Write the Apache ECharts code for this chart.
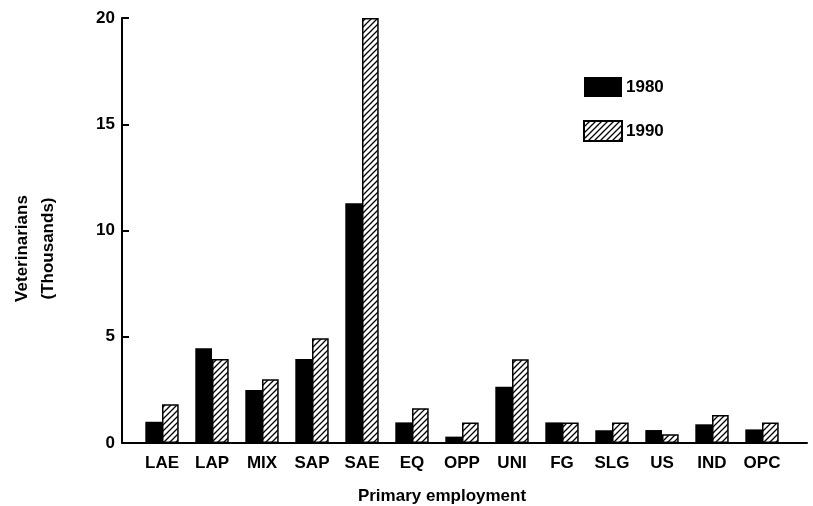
<!DOCTYPE html>
<html>
<head>
<meta charset="utf-8">
<script src="https://cdn.jsdelivr.net/npm/echarts@6/dist/echarts.min.js"></script>
<style>html,body{margin:0;padding:0;background:#fff;}#c{width:813px;height:506px;}</style>
</head>
<body>
<div id="c"></div>
<script>
var categories = ['LAE','LAP','MIX','SAP','SAE','EQ','OPP','UNI','FG','SLG','US','IND','OPC'];
var values1980 = [1.0, 4.46, 2.49, 3.95, 11.28, 0.97, 0.3, 2.65, 0.97, 0.6, 0.61, 0.88, 0.64];
var values1990 = [1.82, 3.95, 3.0, 4.93, 20, 1.64, 0.96, 3.94, 0.97, 0.96, 0.41, 1.32, 0.97];
var yTicks = [0, 5, 10, 15, 20];

function hatch() {
  var s = 6;
  var cv = document.createElement('canvas');
  cv.width = s; cv.height = s;
  var ctx = cv.getContext('2d');
  ctx.fillStyle = '#fff';
  ctx.fillRect(0, 0, s, s);
  ctx.strokeStyle = '#000';
  ctx.lineWidth = 1.3;
  ctx.beginPath();
  ctx.moveTo(-1, s + 1); ctx.lineTo(s + 1, -1);
  ctx.moveTo(-1, 1); ctx.lineTo(1, -1);
  ctx.moveTo(s - 1, s + 1); ctx.lineTo(s + 1, s - 1);
  ctx.stroke();
  return cv;
}

var font = 'Liberation Sans, Arial, Helvetica, sans-serif';
var chart = echarts.init(document.getElementById('c'), null, {renderer: 'canvas'});
chart.setOption({
  animation: false,
  backgroundColor: '#fff',
  textStyle: {fontFamily: font},
  legend: {
    orient: 'vertical', left: 583, top: 77, padding: 0,
    itemWidth: 38, itemHeight: 20, itemGap: 23,
    icon: 'rect',
    textStyle: {fontFamily: font, fontSize: 17, fontWeight: 'bold', color: '#000', padding: [0, 0, 0, -1]},
    data: ['1980', '1990']
  },
  grid: [
    {left: 137, right: 26, top: 18, bottom: 63, containLabel: false, outerBoundsMode: 'none'},
    {left: 122, right: 6, top: 18, bottom: 63, containLabel: false, outerBoundsMode: 'none'}
  ],
  xAxis: [
    {
      type: 'category', gridIndex: 0, data: categories,
      axisLine: {show: false}, axisTick: {show: false},
      axisLabel: {color: '#000', fontSize: 17, fontWeight: 'bold', fontFamily: font, margin: 12, interval: 0},
      name: 'Primary employment', nameLocation: 'middle', nameGap: 45,
      nameTextStyle: {color: '#000', fontSize: 17, fontWeight: 'bold', fontFamily: font, padding: [0, 40, 0, 0]}
    },
    {
      type: 'value', gridIndex: 1, min: 0, max: 1,
      axisLine: {show: true, lineStyle: {color: '#000', width: 2}},
      axisTick: {show: false}, axisLabel: {show: false}, splitLine: {show: false}
    }
  ],
  yAxis: [
    {
      type: 'value', gridIndex: 0, min: yTicks[0], max: yTicks[yTicks.length - 1], interval: 5,
      offset: 15,
      axisLine: {show: true, lineStyle: {color: '#000', width: 2}},
      axisTick: {show: true, inside: true, length: 7, lineStyle: {color: '#000', width: 2}},
      axisLabel: {color: '#000', fontSize: 17, fontWeight: 'bold', fontFamily: font, margin: 7},
      splitLine: {show: false},
      name: 'Veterinarians\n(Thousands)', nameLocation: 'middle', nameGap: 61, nameRotate: 90,
      nameTextStyle: {color: '#000', fontSize: 17, fontWeight: 'bold', fontFamily: font, lineHeight: 26, padding: [0, 36, 0, 0]}
    },
    {
      type: 'value', gridIndex: 1, show: false, min: 0, max: 1
    }
  ],
  series: [
    {
      name: '1980', type: 'bar', xAxisIndex: 0, yAxisIndex: 0,
      data: values1980, barWidth: 16.7, barGap: '0%',
      itemStyle: {color: '#000', borderColor: '#000', borderWidth: 0}
    },
    {
      name: '1990', type: 'bar', xAxisIndex: 0, yAxisIndex: 0,
      data: values1990, barWidth: 16.7, barGap: '0%',
      itemStyle: {color: {image: hatch(), repeat: 'repeat'}, borderColor: '#000', borderWidth: 1.5}
    }
  ]
});
</script>
</body>
</html>
